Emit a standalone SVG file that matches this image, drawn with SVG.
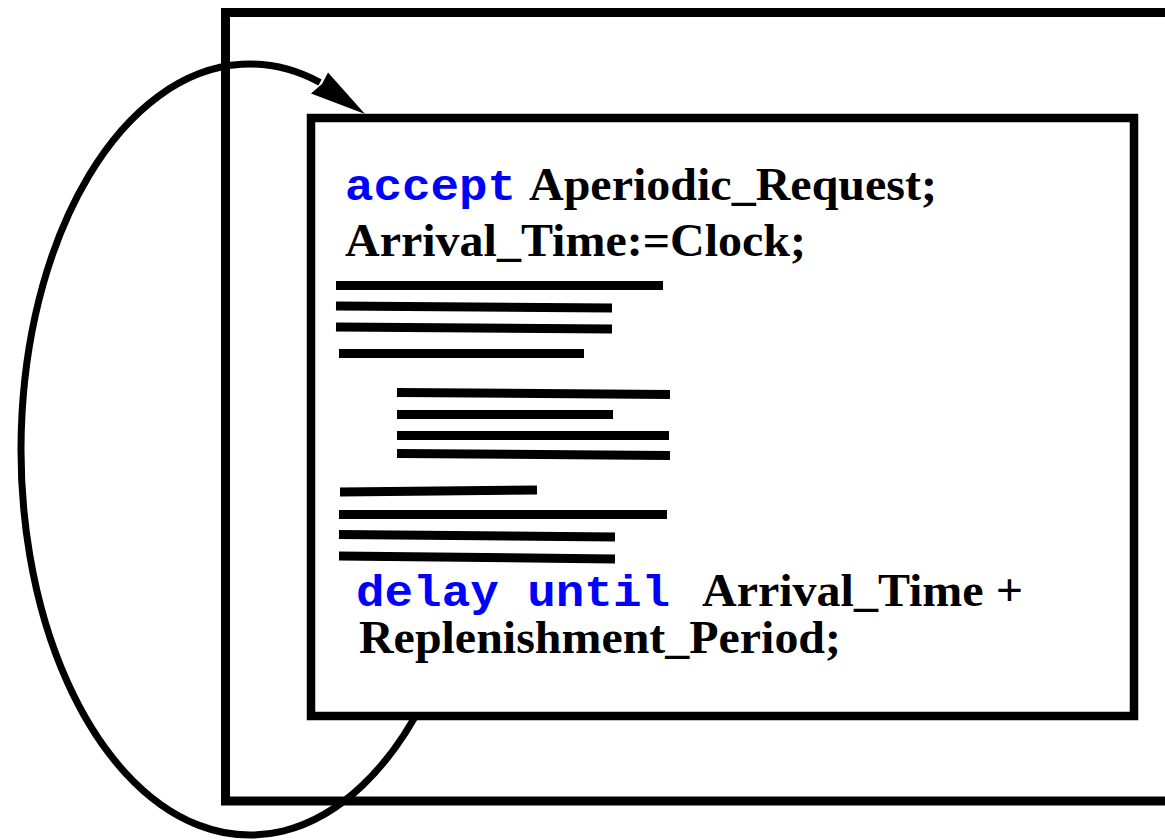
<svg xmlns="http://www.w3.org/2000/svg" width="1165" height="840" viewBox="0 0 1165 840">
<style>
.box{fill:none;stroke:#000;stroke-width:9}
.inner{fill:#fff;stroke:#000;stroke-width:8.5}
.conn{fill:none;stroke:#000;stroke-width:7}
.bar{stroke:#000;stroke-width:9;stroke-linecap:butt}
.kw{font-family:"Liberation Mono","Courier New",monospace;font-weight:bold;font-size:45px;fill:#0000ff}
.code{font-family:"Liberation Serif","Times New Roman",serif;font-weight:bold;font-size:47px;fill:#000}
</style>
<g id="outer-box">
<path class="box" d="M1170,12.5 H225.5 V801 H1170"/>
</g>
<g id="connectors">
<path class="conn" d="M424.1,700 A229,385.5 0 1 1 320,82.5"/>
</g>
<g id="inner-box">
<rect class="inner" x="311" y="118" width="823" height="598"/>
<text class="kw" x="345" y="200" textLength="171" lengthAdjust="spacingAndGlyphs">accept</text>
<text class="code" x="529" y="200" textLength="408" lengthAdjust="spacingAndGlyphs">Aperiodic_Request;</text>
<text class="code" x="345" y="256" textLength="461" lengthAdjust="spacingAndGlyphs">Arrival_Time:=Clock;</text>
<g id="code-lines">
<line class="bar" x1="336" y1="285.5" x2="663" y2="285.5"/>
<line class="bar" x1="336" y1="306" x2="612" y2="308"/>
<line class="bar" x1="336" y1="327" x2="612" y2="329"/>
<line class="bar" x1="339" y1="353.5" x2="584" y2="353.5"/>
<line class="bar" x1="397" y1="392.5" x2="670" y2="394.5"/>
<line class="bar" x1="397" y1="414.5" x2="613" y2="414.5"/>
<line class="bar" x1="397" y1="435.5" x2="669" y2="435.5"/>
<line class="bar" x1="397" y1="453.5" x2="670" y2="455.5"/>
<line class="bar" x1="340" y1="492" x2="537" y2="490"/>
<line class="bar" x1="339" y1="514.5" x2="667" y2="514.5"/>
<line class="bar" x1="339" y1="534.5" x2="615" y2="537"/>
<line class="bar" x1="339" y1="556" x2="615" y2="559"/>
</g>
<text class="kw" x="356" y="606" textLength="314" lengthAdjust="spacingAndGlyphs">delay until</text>
<text class="code" x="702" y="606" textLength="321" lengthAdjust="spacingAndGlyphs">Arrival_Time +</text>
<text class="code" x="359" y="653" textLength="482" lengthAdjust="spacingAndGlyphs">Replenishment_Period;</text>
</g>
<g id="arrowhead">
<polygon points="365,114 328,72.5 322,84 311,93.5" fill="#000"/>
</g>
</svg>
